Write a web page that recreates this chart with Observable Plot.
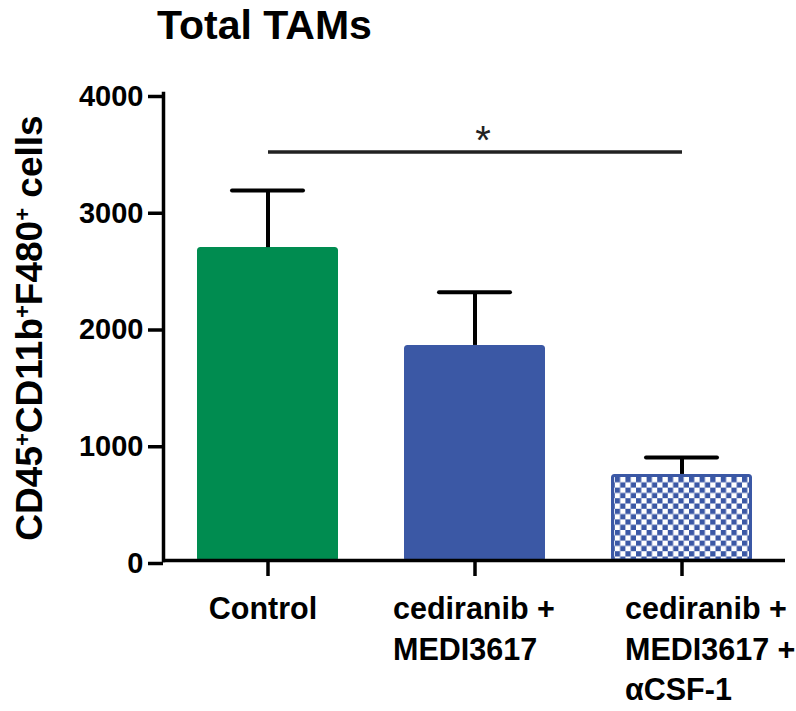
<!DOCTYPE html>
<html>
<head>
<meta charset="utf-8">
<script src="https://cdn.jsdelivr.net/npm/d3@7"></script>
<script src="https://cdn.jsdelivr.net/npm/@observablehq/plot@0.6"></script>
<style>
  html, body { margin: 0; padding: 0; background: #fff; }
  #chart svg { display: block; }
</style>
</head>
<body>
<div id="chart"></div>
<script>
// ---- data ----
const categories = ["Control", "cediranib + MEDI3617", "cediranib + MEDI3617 + αCSF-1"];
const tickLabels = ["Control", "cediranib +\nMEDI3617", "cediranib +\nMEDI3617 +\nαCSF-1"];
const means = [2680, 1842, 737];
const errors = [490, 455, 145];
const fills = ["#008C50", "#3B58A5", "url(#checker)"];
const strokes = ["#008C50", "#3B58A5", "#3B58A5"];
const yTicks = [0, 1000, 2000, 3000, 4000];
const sigFrom = "Control";
const sigTo = "cediranib + MEDI3617 + αCSF-1";
const sigMid = "cediranib + MEDI3617";
const sigLevel = 3500;
const sigText = "*";
const titleText = "Total TAMs";

const data = categories.map((c, i) => ({
  cat: c, label: tickLabels[i], mean: means[i], err: errors[i], top: means[i] + errors[i],
  fill: fills[i], stroke: strokes[i]
}));

const font = "'Liberation Sans', Arial, Helvetica, sans-serif";
const labelOffsets = [{dx: -5, anchor: "middle"}, {dx: -82, anchor: "start"}, {dx: -57, anchor: "start"}];

const chart = Plot.plot({
  width: 796,
  height: 711,
  marginLeft: 163,
  marginRight: 11,
  marginTop: 93,
  marginBottom: 151,
  style: {fontFamily: font, background: "#fff", color: "#000", overflow: "visible"},
  x: {domain: categories, paddingInner: 0.32, paddingOuter: 0.16, axis: null},
  y: {domain: [0, 4000], axis: null},
  color: {type: "identity"},
  marks: [
    Plot.barY(data, {x: "cat", y: "mean", fill: "fill", stroke: "stroke", strokeWidth: 3,
      insetLeft: 1.5, insetRight: 1.5, insetTop: 1.5, rx: 2}),
    Plot.ruleX(data, {x: "cat", y1: "mean", y2: "top", stroke: "#000", strokeWidth: 4}),
    Plot.tickY(data, {x: "cat", y: "top", stroke: "#000", strokeWidth: 4, strokeLinecap: "round",
      insetLeft: 35, insetRight: 35}),
    Plot.link([{a: sigFrom, b: sigTo, v: sigLevel}], {x1: "a", x2: "b", y1: "v", y2: "v",
      stroke: "#222", strokeWidth: 3.5}),
    Plot.text([{m: sigMid, v: sigLevel, t: sigText}], {x: "m", y: "v", text: "t",
      lineAnchor: "bottom", dx: 8, dy: 2, fontSize: 40, fill: "#222"}),
    Plot.ruleY([0], {stroke: "#000", strokeWidth: 3.5}),
    Plot.frame({anchor: "left", stroke: "#000", strokeWidth: 3.5}),
    Plot.axisY({ticks: yTicks, tickSize: 15, tickPadding: 5, tickFormat: d3.format("d"),
      fontSize: 29, fontWeight: "bold", strokeWidth: 3.5, label: null, dy: 3}),
    Plot.axisX({tickSize: 16, tickFormat: () => "", strokeWidth: 3.5, label: null}),
    ...data.map((d, i) => Plot.text([d], {x: "cat", y: () => 0, text: "label",
      textAnchor: labelOffsets[i].anchor, dx: labelOffsets[i].dx, dy: 30,
      lineAnchor: "top", lineHeight: 1.33, fontSize: 30.5, fontWeight: "bold", fill: "#000"}))
  ]
});

const svg = d3.select(chart);

// checker pattern
const defs = svg.insert("defs", ":first-child");
const pat = defs.append("pattern").attr("id", "checker")
  .attr("patternUnits", "userSpaceOnUse").attr("width", 10.6).attr("height", 10.6);
pat.append("rect").attr("width", 10.6).attr("height", 10.6).attr("fill", "#fff");
pat.append("rect").attr("width", 5.3).attr("height", 5.3).attr("fill", "#3B58A5");
pat.append("rect").attr("x", 5.3).attr("y", 5.3).attr("width", 5.3).attr("height", 5.3).attr("fill", "#3B58A5");

// title
svg.append("text").attr("x", 157).attr("y", 39).attr("text-anchor", "start")
  .attr("font-family", font).attr("font-size", 41).attr("font-weight", "bold").attr("fill", "#000")
  .text(titleText);

// y axis label with superscripts
const yl = svg.append("text").attr("transform", "translate(42,328) rotate(-90)")
  .attr("text-anchor", "middle").attr("font-family", font).attr("font-size", 37)
  .attr("font-weight", "bold").attr("fill", "#000");
const parts = [["CD45", false], ["+", true], ["CD11b", false], ["+", true], ["F480", false], ["+", true], [" cells", false]];
parts.forEach(([t, sup]) => {
  const ts = yl.append("tspan").text(t);
  if (sup) ts.attr("font-size", 22).attr("baseline-shift", "55%");
});

document.getElementById("chart").appendChild(chart);
</script>
</body>
</html>
